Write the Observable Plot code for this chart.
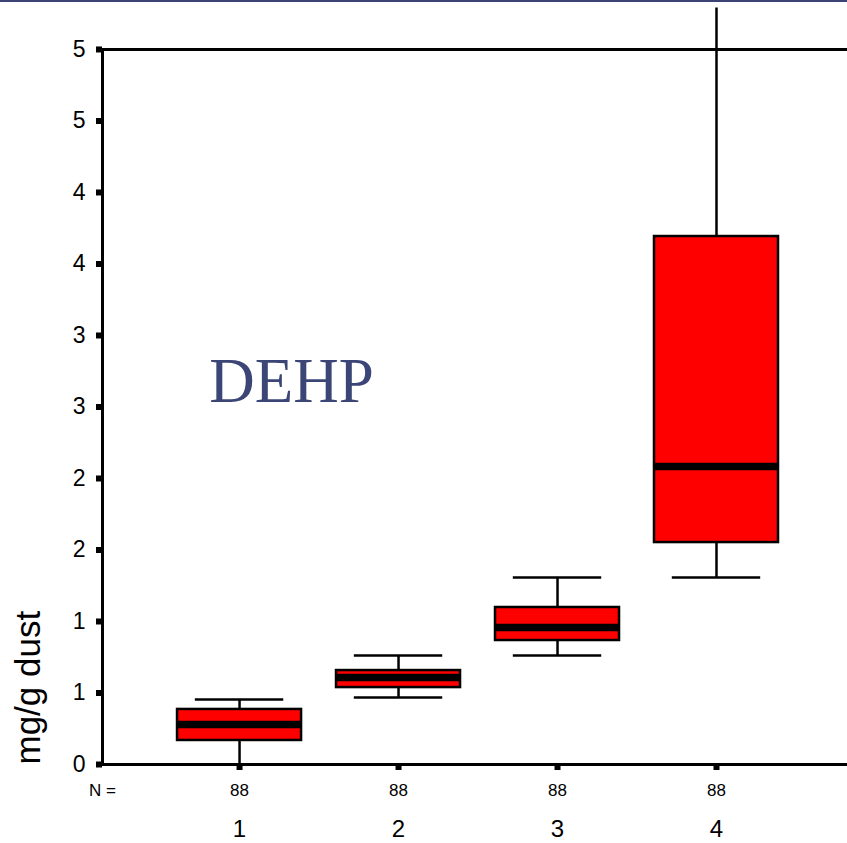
<!DOCTYPE html>
<html>
<head>
<meta charset="utf-8">
<script src="https://cdn.jsdelivr.net/npm/d3@7"></script>
<script src="https://cdn.jsdelivr.net/npm/@observablehq/plot@0.6"></script>
<style>
  html, body { margin: 0; padding: 0; background: #fff; }
  #wrap { position: relative; width: 847px; height: 843px; overflow: hidden; }
  #bar { position: absolute; left: 0; top: 0; width: 847px; height: 2px; background: #3b4374; }
  #chart svg { display: block; }
</style>
</head>
<body>
<div id="wrap"><div id="chart"></div><div id="bar"></div></div>
<script>
const categories  = [1, 2, 3, 4];
const counts      = [88, 88, 88, 88];
const whiskerLow  = [0.0,   0.469, 0.762, 1.308];
const q1          = [0.168, 0.538, 0.867, 1.552];
const median      = [0.280, 0.608, 0.958, 2.084];
const q3          = [0.385, 0.657, 1.098, 3.692];
const whiskerHigh = [0.455, 0.762, 1.308, 5.6];
const yTicks      = [0, 0.5, 1, 1.5, 2, 2.5, 3, 3.5, 4, 4.5, 5];
const yTickLabels = ["0", "1", "1", "2", "2", "3", "3", "4", "4", "5", "5"];
const yLabel = "mg/g dust";
const title = "DEHP";

const rows = categories.map((c, i) => ({
  cat: c, n: counts[i], lo: whiskerLow[i], q1: q1[i], med: median[i], q3: q3[i], hi: whiskerHigh[i]
}));
const yTickRows = yTicks.map((v, i) => ({v, label: yTickLabels[i]}));

const xDomain = [0.138, 4.824];
const yDomain = [0, 5.29];          // visible area reaches slightly above the top frame line
const yFrameTop = 5;
const boxHalf = 0.39, capHalf = 0.278;
const font = "Arial, 'Liberation Sans', sans-serif";

const chart = Plot.plot({
  width: 847, height: 843,
  marginLeft: 102, marginRight: 0, marginTop: 7.5, marginBottom: 79,
  style: {fontFamily: font, fontSize: "22px", color: "#000", background: "#fff"},
  x: {domain: xDomain},
  y: {domain: yDomain},
  marks: [
    // whiskers
    Plot.ruleX(rows, {x: "cat", y1: "q3", y2: "hi", stroke: "#000", strokeWidth: 2.5, clip: true}),
    Plot.ruleX(rows, {x: "cat", y1: "lo", y2: "q1", stroke: "#000", strokeWidth: 2.5}),
    Plot.ruleY(rows, {y: "hi", x1: d => d.cat - capHalf, x2: d => d.cat + capHalf, stroke: "#000", strokeWidth: 2.5, clip: true}),
    Plot.ruleY(rows, {y: "lo", x1: d => d.cat - capHalf, x2: d => d.cat + capHalf, stroke: "#000", strokeWidth: 2.5}),
    // boxes
    Plot.rect(rows, {x1: d => d.cat - boxHalf, x2: d => d.cat + boxHalf, y1: "q1", y2: "q3", fill: "#ff0000", stroke: "#000", strokeWidth: 2.5}),
    Plot.ruleY(rows, {y: "med", x1: d => d.cat - boxHalf, x2: d => d.cat + boxHalf, stroke: "#000", strokeWidth: 7.5}),
    // frame lines
    Plot.ruleY([0], {stroke: "#000", strokeWidth: 3}),
    Plot.ruleY([yFrameTop], {stroke: "#000", strokeWidth: 3}),
    Plot.ruleX([xDomain[0]], {y1: 0, y2: yFrameTop, stroke: "#000", strokeWidth: 3}),
    // axes (tick squares)
    Plot.axisY({ticks: yTicks, tickSize: 6, strokeWidth: 6, tickFormat: () => "", label: null}),
    Plot.axisX({ticks: categories, tickSize: 6, strokeWidth: 6, tickFormat: () => "", label: null}),
    // y tick labels
    Plot.text(yTickRows, {x: () => xDomain[0], y: "v", text: "label", dx: -17, textAnchor: "end", lineAnchor: "middle", fontSize: 23}),
    // N counts
    Plot.text(["N ="], {x: () => xDomain[0], y: () => 0, dy: 26, fontSize: 17, textAnchor: "middle", lineAnchor: "middle"}),
    Plot.text(rows, {x: "cat", y: () => 0, text: d => String(d.n), dy: 26, fontSize: 17, lineAnchor: "middle"}),
    // category labels
    Plot.text(rows, {x: "cat", y: () => 0, text: d => String(d.cat), dy: 65, fontSize: 24, lineAnchor: "middle"}),
    // y label
    Plot.text([yLabel], {frameAnchor: "bottom-left", rotate: -90, textAnchor: "start", lineAnchor: "bottom", dx: -63, fontSize: 35}),
    // title annotation
    Plot.text([title], {frameAnchor: "top-left", dx: 189, dy: 373.5, fontSize: 63, fontFamily: "'Times New Roman', 'Liberation Serif', serif", fill: "#3b4677", textAnchor: "middle", lineAnchor: "middle"})
  ]
});
document.getElementById("chart").append(chart);
</script>
</body>
</html>
